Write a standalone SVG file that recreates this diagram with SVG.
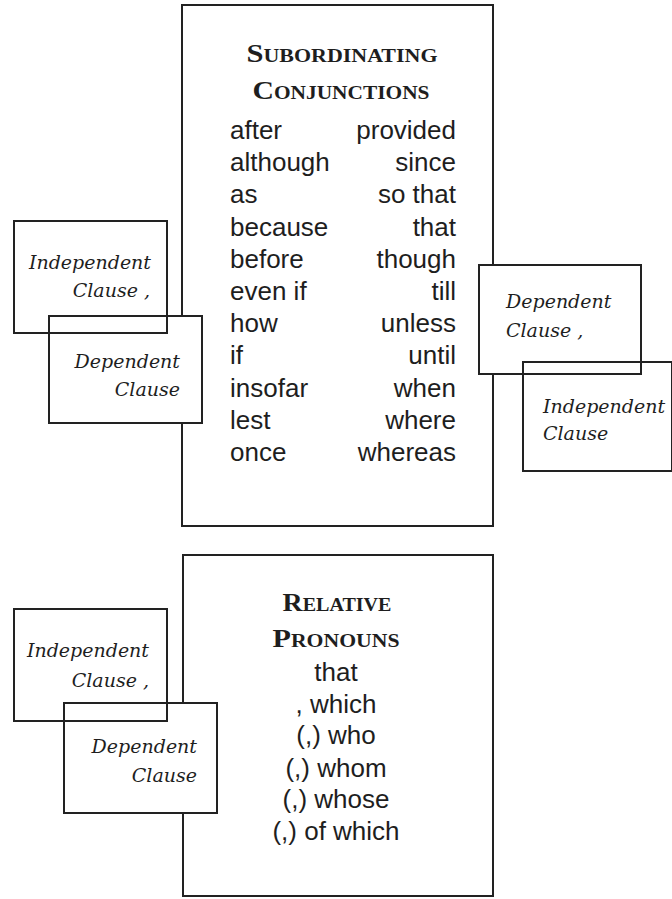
<svg xmlns="http://www.w3.org/2000/svg" width="672" height="899" viewBox="0 0 672 899">
<style>
.box{fill:none;stroke:#222;stroke-width:2}
.wbox{fill:#fff;stroke:#222;stroke-width:2}
.title{font-family:"Liberation Serif",serif;font-weight:bold;font-variant:small-caps;font-size:25px;fill:#1e1e1e;text-anchor:middle}
.word{font-family:"Liberation Sans",Arial,sans-serif;font-size:26px;fill:#1e1e1e}
.r{text-anchor:end}
.c{text-anchor:middle}
.clause{font-family:"DejaVu Serif",serif;font-style:italic;font-size:19px;fill:#1e1e1e}
</style>
<rect width="672" height="899" fill="#fff"/>
<g id="connectors"/>
<g id="subordinating">
<rect class="box" x="182" y="5" width="311" height="521"/>
<text class="title" x="342" y="62" textLength="191" lengthAdjust="spacingAndGlyphs">Subordinating</text>
<text class="title" x="341" y="99" textLength="177" lengthAdjust="spacingAndGlyphs">Conjunctions</text>
<text class="word" x="230" y="139">after</text>
<text class="word" x="230" y="171">although</text>
<text class="word" x="230" y="203">as</text>
<text class="word" x="230" y="236">because</text>
<text class="word" x="230" y="268">before</text>
<text class="word" x="230" y="300">even if</text>
<text class="word" x="230" y="332">how</text>
<text class="word" x="230" y="364">if</text>
<text class="word" x="230" y="397">insofar</text>
<text class="word" x="230" y="429">lest</text>
<text class="word" x="230" y="461">once</text>
<text class="word r" x="456" y="139">provided</text>
<text class="word r" x="456" y="171">since</text>
<text class="word r" x="456" y="203">so that</text>
<text class="word r" x="456" y="236">that</text>
<text class="word r" x="456" y="268">though</text>
<text class="word r" x="456" y="300">till</text>
<text class="word r" x="456" y="332">unless</text>
<text class="word r" x="456" y="364">until</text>
<text class="word r" x="456" y="397">when</text>
<text class="word r" x="456" y="429">where</text>
<text class="word r" x="456" y="461">whereas</text>
</g>
<g id="dep-left-top">
<rect class="wbox" x="49" y="316" width="153" height="107"/>
<text class="clause r" x="180" y="368">Dependent</text>
<text class="clause r" x="180" y="396">Clause</text>
</g>
<g id="indep-left-top">
<rect class="box" x="14" y="221" width="153" height="112"/>
<text class="clause r" x="151" y="269">Independent</text>
<text class="clause r" x="150" y="297">Clause ,</text>
</g>
<g id="dep-right">
<rect class="wbox" x="479" y="265" width="162" height="109"/>
<text class="clause" x="506" y="308">Dependent</text>
<text class="clause" x="506" y="337">Clause ,</text>
</g>
<g id="indep-right">
<rect class="box" x="523" y="362" width="149" height="109"/>
<text class="clause" x="543" y="413">Independent</text>
<text class="clause" x="543" y="440">Clause</text>
</g>
<g id="relative">
<rect class="box" x="183" y="555" width="310" height="341"/>
<text class="title" x="337" y="611" textLength="109" lengthAdjust="spacingAndGlyphs">Relative</text>
<text class="title" x="336" y="647" textLength="127" lengthAdjust="spacingAndGlyphs">Pronouns</text>
<text class="word c" x="336" y="681">that</text>
<text class="word c" x="336" y="713">, which</text>
<text class="word c" x="336" y="744">(,) who</text>
<text class="word c" x="336" y="777">(,) whom</text>
<text class="word c" x="336" y="808">(,) whose</text>
<text class="word c" x="336" y="840">(,) of which</text>
</g>
<g id="dep-left-bottom">
<rect class="wbox" x="64" y="703" width="153" height="110"/>
<text class="clause r" x="197" y="753">Dependent</text>
<text class="clause r" x="197" y="782">Clause</text>
</g>
<g id="indep-left-bottom">
<rect class="box" x="14" y="609" width="153" height="112"/>
<text class="clause r" x="149" y="657">Independent</text>
<text class="clause r" x="149" y="687">Clause ,</text>
</g>
</svg>
